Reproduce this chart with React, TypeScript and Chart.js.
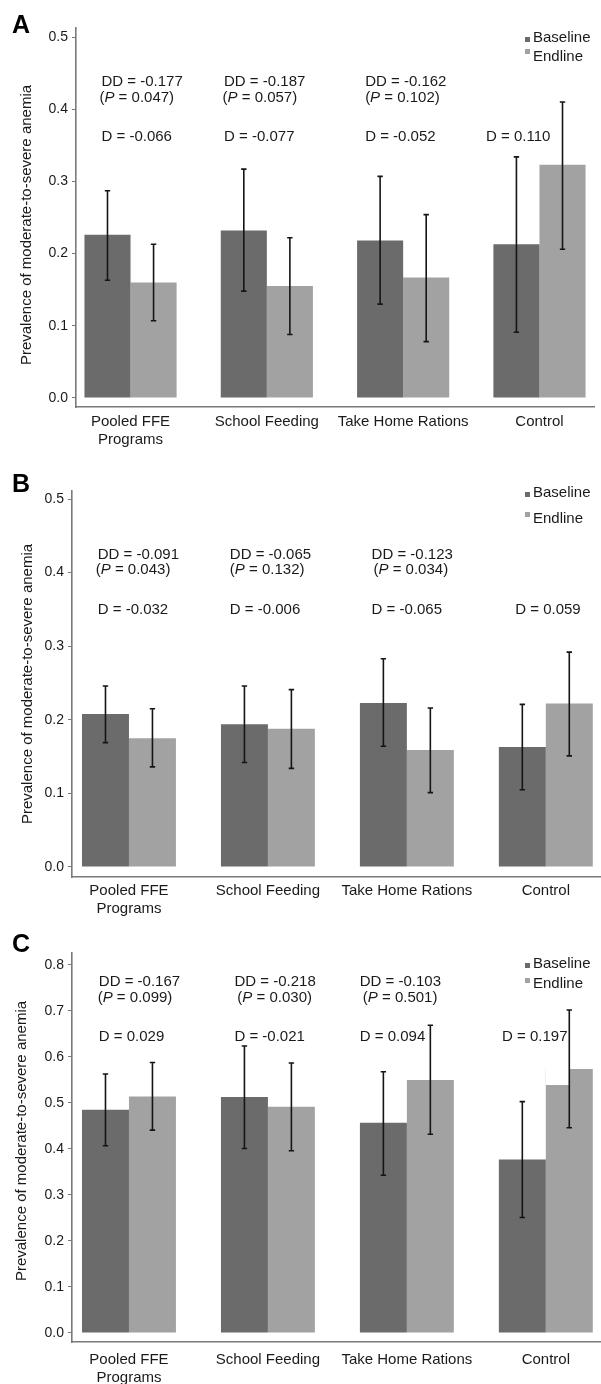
import React, { useEffect, useRef } from 'react';
import { Chart, registerables } from 'chart.js';

Chart.register(...registerables);

// ---------- data ----------
const categories: (string | string[])[] = [['Pooled FFE', 'Programs'], 'School Feeding', 'Take Home Rations', 'Control'];
const seriesNames = ['Baseline', 'Endline'];
const yTitle = 'Prevalence of moderate-to-severe anemia';
const yTicksAB = [0, 0.1, 0.2, 0.3, 0.4, 0.5];
const yTicksC = [0, 0.1, 0.2, 0.3, 0.4, 0.5, 0.6, 0.7, 0.8];

// Panel A
const aBaseline = [0.226, 0.232, 0.218, 0.213];
const aBaselineLow = [0.163, 0.148, 0.130, 0.091];
const aBaselineHigh = [0.287, 0.317, 0.307, 0.334];
const aEndline = [0.160, 0.155, 0.167, 0.323];
const aEndlineLow = [0.107, 0.088, 0.078, 0.206];
const aEndlineHigh = [0.213, 0.222, 0.254, 0.410];
const aDD = ['-0.177', '-0.187', '-0.162', null];
const aP = ['0.047', '0.057', '0.102', null];
const aD = ['-0.066', '-0.077', '-0.052', '0.110'];

// Panel B
const bBaseline = [0.208, 0.194, 0.223, 0.163];
const bBaselineLow = [0.169, 0.142, 0.164, 0.105];
const bBaselineHigh = [0.246, 0.246, 0.283, 0.221];
const bEndline = [0.175, 0.188, 0.159, 0.222];
const bEndlineLow = [0.136, 0.134, 0.101, 0.151];
const bEndlineHigh = [0.215, 0.241, 0.216, 0.292];
const bDD = ['-0.091', '-0.065', '-0.123', null];
const bP = ['0.043', '0.132', '0.034', null];
const bD = ['-0.032', '-0.006', '-0.065', '0.059'];

// Panel C
const cBaseline = [0.485, 0.513, 0.457, 0.377];
const cBaselineLow = [0.407, 0.401, 0.343, 0.251];
const cBaselineHigh = [0.563, 0.624, 0.568, 0.503];
const cEndline = [0.514, 0.492, 0.550, 0.574];
const cEndlineLow = [0.441, 0.396, 0.432, 0.446];
const cEndlineHigh = [0.588, 0.587, 0.669, 0.702];
// the Control endline bar in panel C shows a lower left half (step) in the original
const cEndlineLeftHalf = [null, null, null, 0.539];
const cDD = ['-0.167', '-0.218', '-0.103', null];
const cP = ['0.099', '0.030', '0.501', null];
const cD = ['0.029', '-0.021', '0.094', '0.197'];

// ---------- styles / layout ----------
const FONT = '"Liberation Sans", Arial, Helvetica, sans-serif';
const BASE_COLOR = '#6b6b6b';
const END_COLOR = '#a2a2a2';
const TEXT_COLOR = '#1a1a1a';
const AXIS_COLOR = '#7a7a7a';

type Panel = {
  letter: string;
  top: number;
  height: number;
  plotTop: number;
  xAxisHeight: number;
  axisLeft: number;
  padRight: number;
  yMin: number;
  yMax: number;
  yTicks: number[];
  xMin: number;
  xMax: number;
  xLabelPad: number;
  letterBaseline: number;
  titleX: number;
  titleY: number;
  legendBaseY: number;
  legendEndY: number;
  legendSqBase: number;
  legendSqEnd: number;
  baseline: number[];
  baselineLow: number[];
  baselineHigh: number[];
  endline: number[];
  endlineLow: number[];
  endlineHigh: number[];
  endlineLeft: (number | null)[];
  dd: (string | null)[];
  p: (string | null)[];
  d: (string | null)[];
  ddY: number;
  pY: number;
  dY: number;
  ddOff: number[];
  pOff: number[];
  dOff: number[];
};

const panels: Panel[] = [
  {
    letter: 'A', top: 0, height: 455, plotTop: 28, xAxisHeight: 48, axisLeft: 76, padRight: 7,
    yMin: -0.0125, yMax: 0.5125, yTicks: yTicksAB, xMin: -0.4, xMax: 3.4, xLabelPad: 6,
    letterBaseline: 33, titleX: 27, titleY: 225,
    legendBaseY: 42, legendEndY: 61, legendSqBase: 37, legendSqEnd: 49,
    baseline: aBaseline, baselineLow: aBaselineLow, baselineHigh: aBaselineHigh,
    endline: aEndline, endlineLow: aEndlineLow, endlineHigh: aEndlineHigh, endlineLeft: [null, null, null, null],
    dd: aDD, p: aP, d: aD, ddY: 0.438, pY: 0.416, dY: 0.362,
    ddOff: [-0.213, -0.314, -0.279, -0.392], pOff: [-0.228, -0.325, -0.279, 0], dOff: [-0.213, -0.314, -0.279, -0.392],
  },
  {
    letter: 'B', top: 455, height: 472, plotTop: 36, xAxisHeight: 50, axisLeft: 72, padRight: 1,
    yMin: -0.0136, yMax: 0.5109, yTicks: yTicksAB, xMin: -0.41, xMax: 3.39, xLabelPad: 5,
    letterBaseline: 37, titleX: 27.5, titleY: 229,
    legendBaseY: 42, legendEndY: 68, legendSqBase: 37, legendSqEnd: 57,
    baseline: bBaseline, baselineLow: bBaselineLow, baselineHigh: bBaselineHigh,
    endline: bEndline, endlineLow: bEndlineLow, endlineHigh: bEndlineHigh, endlineLeft: [null, null, null, null],
    dd: bDD, p: bP, d: bD, ddY: 0.424, pY: 0.4035, dY: 0.349,
    ddOff: [-0.225, -0.274, -0.254, -0.22], pOff: [-0.239, -0.274, -0.24, 0], dOff: [-0.225, -0.274, -0.254, -0.22],
  },
  {
    letter: 'C', top: 915, height: 469, plotTop: 38, xAxisHeight: 42, axisLeft: 72, padRight: 1,
    yMin: -0.0196, yMax: 0.826, yTicks: yTicksC, xMin: -0.41, xMax: 3.39, xLabelPad: 9,
    letterBaseline: 37, titleX: 22, titleY: 226,
    legendBaseY: 53, legendEndY: 73, legendSqBase: 48, legendSqEnd: 63,
    baseline: cBaseline, baselineLow: cBaselineLow, baselineHigh: cBaselineHigh,
    endline: cEndline, endlineLow: cEndlineLow, endlineHigh: cEndlineHigh, endlineLeft: cEndlineLeftHalf,
    dd: cDD, p: cP, d: cD, ddY: 0.764, pY: 0.7275, dY: 0.643,
    ddOff: [-0.217, -0.241, -0.339, -0.315], pOff: [-0.225, -0.22, -0.317, 0], dOff: [-0.217, -0.241, -0.339, -0.315],
  },
];

function makeErrorBarPlugin(P: Panel) {
  return {
    id: 'errorBars' + P.letter,
    afterDatasetsDraw(chart: any) {
      const ctx = chart.ctx;
      const ys = chart.scales.y;
      const lows = [P.baselineLow, P.endlineLow];
      const highs = [P.baselineHigh, P.endlineHigh];
      ctx.save();
      // step on the endline bars (left half lower)
      const endMeta = chart.getDatasetMeta(1);
      endMeta.data.forEach((el: any, i: number) => {
        const v = P.endlineLeft[i];
        if (v == null) return;
        const left = el.x - el.width / 2;
        const yTop = ys.getPixelForValue(P.endline[i]);
        const yStep = ys.getPixelForValue(v);
        ctx.fillStyle = '#ffffff';
        ctx.fillRect(left, yTop - 0.5, el.width / 2, yStep - yTop + 0.5);
      });
      ctx.strokeStyle = '#151515';
      ctx.lineWidth = 1.6;
      for (let ds = 0; ds < 2; ds++) {
        const meta = chart.getDatasetMeta(ds);
        meta.data.forEach((el: any, i: number) => {
          const x = el.x;
          const y1 = ys.getPixelForValue(lows[ds][i]);
          const y2 = ys.getPixelForValue(highs[ds][i]);
          ctx.beginPath();
          ctx.moveTo(x, y1);
          ctx.lineTo(x, y2);
          ctx.moveTo(x - 2.7, y1);
          ctx.lineTo(x + 2.7, y1);
          ctx.moveTo(x - 2.7, y2);
          ctx.lineTo(x + 2.7, y2);
          ctx.stroke();
        });
      }
      ctx.restore();
    },
  };
}

function makeTextPlugin(P: Panel) {
  return {
    id: 'texts' + P.letter,
    afterDraw(chart: any) {
      const ctx = chart.ctx;
      const xs = chart.scales.x;
      const ys = chart.scales.y;
      ctx.save();
      // panel letter
      ctx.fillStyle = '#000';
      ctx.font = `bold 25px ${FONT}`;
      ctx.textAlign = 'left';
      ctx.textBaseline = 'alphabetic';
      ctx.fillText(P.letter, 12, P.letterBaseline);

      // y title
      ctx.save();
      ctx.translate(P.titleX, P.titleY);
      ctx.rotate(-Math.PI / 2);
      ctx.font = `15px ${FONT}`;
      ctx.fillStyle = TEXT_COLOR;
      ctx.textAlign = 'center';
      ctx.textBaseline = 'middle';
      ctx.fillText(yTitle, 0, 0);
      ctx.restore();

      // legend
      ctx.font = `15px ${FONT}`;
      ctx.fillStyle = TEXT_COLOR;
      ctx.textBaseline = 'alphabetic';
      ctx.fillText(seriesNames[0], 533, P.legendBaseY);
      ctx.fillText(seriesNames[1], 533, P.legendEndY);
      ctx.fillStyle = BASE_COLOR;
      ctx.fillRect(525, P.legendSqBase, 5, 5);
      ctx.fillStyle = END_COLOR;
      ctx.fillRect(525, P.legendSqEnd, 5, 5);

      // annotations
      ctx.fillStyle = TEXT_COLOR;
      ctx.textBaseline = 'middle';
      ctx.textAlign = 'left';
      for (let i = 0; i < categories.length; i++) {
        ctx.font = `15px ${FONT}`;
        if (P.dd[i]) {
          ctx.fillText('DD = ' + P.dd[i], xs.getPixelForValue(i + P.ddOff[i]), ys.getPixelForValue(P.ddY));
        }
        if (P.p[i]) {
          let x = xs.getPixelForValue(i + P.pOff[i]);
          const y = ys.getPixelForValue(P.pY);
          ctx.font = `15px ${FONT}`;
          ctx.fillText('(', x, y);
          x += ctx.measureText('(').width;
          ctx.font = `italic 15px ${FONT}`;
          ctx.fillText('P', x, y);
          x += ctx.measureText('P').width;
          ctx.font = `15px ${FONT}`;
          ctx.fillText(' = ' + P.p[i] + ')', x, y);
        }
        if (P.d[i]) {
          ctx.font = `15px ${FONT}`;
          ctx.fillText('D = ' + P.d[i], xs.getPixelForValue(i + P.dOff[i]), ys.getPixelForValue(P.dY));
        }
      }
      ctx.restore();
    },
  };
}

function PanelChart({ P }: { P: Panel }) {
  const ref = useRef<HTMLCanvasElement | null>(null);
  useEffect(() => {
    if (!ref.current) return;
    const chart = new Chart(ref.current, {
      type: 'bar',
      data: {
        datasets: [
          {
            label: seriesNames[0],
            data: P.baseline.map((v, i) => ({ x: i, y: v })),
            backgroundColor: BASE_COLOR,
            borderWidth: 0,
            categoryPercentage: 0.676,
            barPercentage: 1,
          },
          {
            label: seriesNames[1],
            data: P.endline.map((v, i) => ({ x: i, y: v })),
            backgroundColor: END_COLOR,
            borderWidth: 0,
            categoryPercentage: 0.676,
            barPercentage: 1,
          },
        ],
      } as any,
      options: {
        animation: false,
        responsive: false,
        devicePixelRatio: 1,
        layout: { padding: { left: 0, right: P.padRight, top: P.plotTop, bottom: 0 } },
        plugins: { legend: { display: false }, tooltip: { enabled: false } },
        scales: {
          x: {
            type: 'linear',
            min: P.xMin,
            max: P.xMax,
            offset: false,
            grid: { display: false, drawTicks: false, offset: false },
            border: { display: true, color: AXIS_COLOR, width: 1.6 },
            ticks: {
              autoSkip: false,
              maxRotation: 0,
              minRotation: 0,
              padding: P.xLabelPad,
              color: TEXT_COLOR,
              font: { family: FONT, size: 15, lineHeight: 1.2 },
              callback: (v: any) => (categories[Number(v)] ?? '') as any,
            },
            afterBuildTicks: (s: any) => {
              s.ticks = categories.map((_, i) => ({ value: i }));
            },
            afterFit: (s: any) => {
              s.height = P.xAxisHeight;
            },
          },
          y: {
            type: 'linear',
            min: P.yMin,
            max: P.yMax,
            grid: { display: true, drawOnChartArea: false, drawTicks: true, tickLength: 4, color: AXIS_COLOR, lineWidth: 1 },
            border: { display: true, color: AXIS_COLOR, width: 1.6 },
            ticks: {
              padding: 4,
              color: TEXT_COLOR,
              font: { family: FONT, size: 14 },
              callback: (v: any) => Number(v).toFixed(1),
            },
            afterBuildTicks: (s: any) => {
              s.ticks = P.yTicks.map((v) => ({ value: v }));
            },
            afterFit: (s: any) => {
              s.width = P.axisLeft;
            },
          },
        },
      } as any,
      plugins: [makeErrorBarPlugin(P), makeTextPlugin(P)],
    });
    return () => chart.destroy();
  }, [P]);
  return (
    <canvas
      ref={ref}
      width={601}
      height={P.height}
      style={{ position: 'absolute', left: 0, top: P.top, width: 601, height: P.height, display: 'block' }}
    />
  );
}

export default function App() {
  return (
    <div style={{ position: 'absolute', left: 0, top: 0, width: 601, height: 1384, background: '#fff', overflow: 'hidden' }}>
      {panels.map((P) => (
        <PanelChart key={P.letter} P={P} />
      ))}
    </div>
  );
}
